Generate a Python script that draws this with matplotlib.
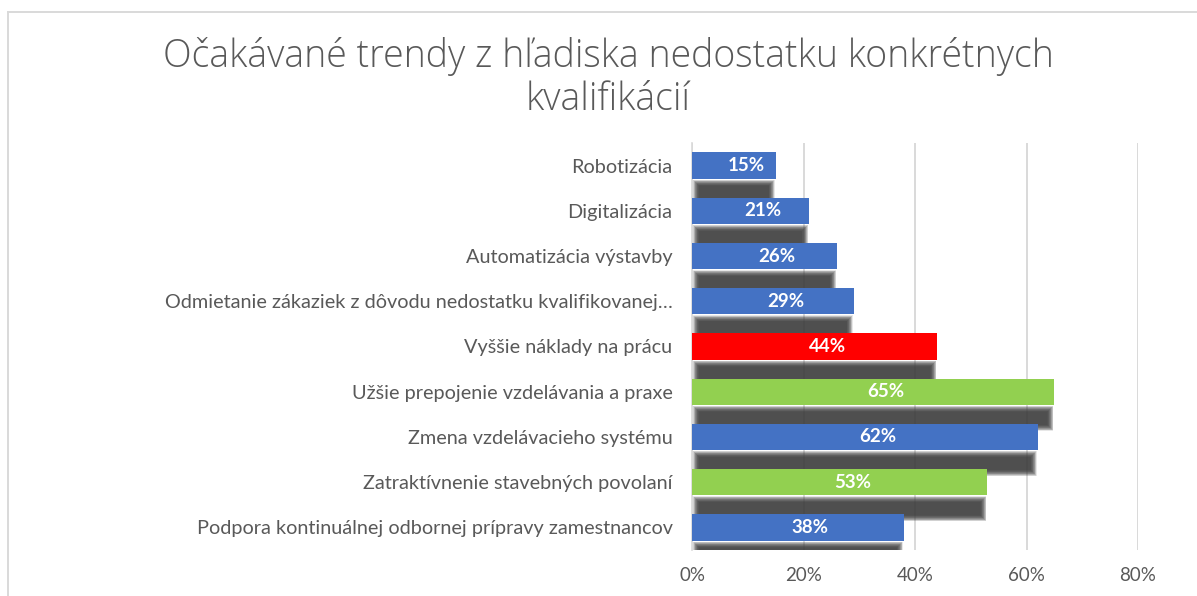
import matplotlib
matplotlib.use("Agg")
import matplotlib.pyplot as plt
from matplotlib.lines import Line2D
import numpy as np

categories = [
    "Robotizácia",
    "Digitalizácia",
    "Automatizácia výstavby",
    "Odmietanie zákaziek z dôvodu nedostatku kvalifikovanej…",
    "Vyššie náklady na prácu",
    "Užšie prepojenie vzdelávania a praxe",
    "Zmena vzdelávacieho systému",
    "Zatraktívnenie stavebných povolaní",
    "Podpora kontinuálnej odbornej prípravy zamestnancov",
]
values = [0.15, 0.21, 0.26, 0.29, 0.44, 0.65, 0.62, 0.53, 0.38]
bar_colors = ["#4472C4", "#4472C4", "#4472C4", "#4472C4", "#FF0000",
              "#92D050", "#4472C4", "#92D050", "#4472C4"]
x_ticks = [0, 0.2, 0.4, 0.6, 0.8]
x_ticklabels = ["0%", "20%", "40%", "60%", "80%"]
title = "Očakávané trendy z hľadiska nedostatku konkrétnych\nkvalifikácií"

W, H = 1197, 596
fig = plt.figure(figsize=(W / 100, H / 100), dpi=100)
fig.patch.set_facecolor("white")

ax_left, ax_right = 692 / W, 1138 / W
ax_top, ax_bottom = 1 - 143 / H, 1 - 550 / H
ax = fig.add_axes([ax_left, ax_bottom, ax_right - ax_left, ax_top - ax_bottom])

ypos = np.arange(len(categories))
bar_h = 0.58

# pixel -> data conversions
px_x = 0.8 / (1138 - 692)
px_y = 9.0 / (550 - 143)

# blurred drop shadow under bars
n_layers = 16
blur_px = 6.0
core_top = bar_h / 2 + 7 * px_y          # below bar bottom
core_h = 13 * px_y
for i in range(n_layers):
    d = blur_px * (1 - i / (n_layers - 1))
    dx = d * px_x
    dy = d * px_y
    ax.barh(ypos + core_top + core_h / 2,
            [v - 14 * px_x + 2 * dx for v in values],
            left=7 * px_x - dx, height=core_h + 2 * dy,
            color="#3a3a3a", alpha=0.12, linewidth=0, zorder=2)

ax.barh(ypos, values, height=bar_h, color=bar_colors, linewidth=0, zorder=3)

for y, v in zip(ypos, values):
    ax.annotate(f"{round(v * 100)}%", xy=(v / 2, y), xytext=(9, 0),
                textcoords="offset points", ha="center", va="center",
                color="white", fontsize=13.5, fontweight="bold",
                family=["Lato", "DejaVu Sans"], zorder=4)

ax.set_xlim(0, 0.8)
ax.set_ylim(len(categories) - 0.5, -0.5)
ax.set_xticks(x_ticks)
ax.set_xticklabels(x_ticklabels)
ax.set_yticks(ypos)
ax.set_yticklabels(categories)
ax.xaxis.grid(True, color="#D9D9D9", linewidth=1.4, zorder=0)
ax.set_axisbelow(True)
for s in ["top", "right", "bottom"]:
    ax.spines[s].set_visible(False)
ax.spines["left"].set_color("#D9D9D9")
ax.spines["left"].set_linewidth(1.2)
ax.tick_params(axis="both", length=0, colors="#595959")
ax.tick_params(axis="x", pad=12, labelsize=13.5)
ax.tick_params(axis="y", pad=14, labelsize=14.3)
for lab in ax.get_xticklabels() + ax.get_yticklabels():
    lab.set_family(["Lato", "DejaVu Sans"])
    lab.set_color("#595959")

fig.text(608 / W, 1 - 78 / H, title, ha="center", va="center",
         fontsize=27, color="#595959", family=["Open Sans", "DejaVu Sans"],
         fontweight=300, linespacing=1.18)

# chart border (partially visible)
fig.add_artist(Line2D([7.5 / W, 1], [1 - 11.5 / H, 1 - 11.5 / H],
                      transform=fig.transFigure, color="#D9D9D9", lw=1.4))
fig.add_artist(Line2D([7.5 / W, 7.5 / W], [0, 1 - 11.5 / H],
                      transform=fig.transFigure, color="#D9D9D9", lw=1.4))

fig.savefig("out.png", dpi=100, facecolor="white")
